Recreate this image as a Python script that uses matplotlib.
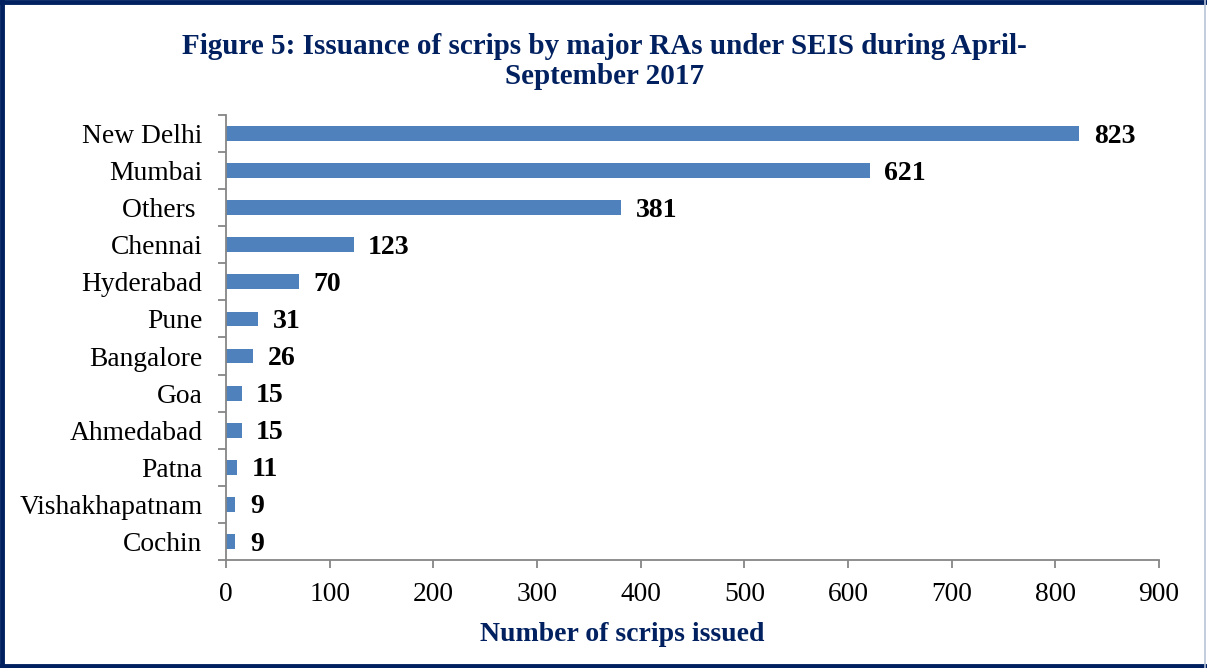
import matplotlib.pyplot as plt
import numpy as np
from matplotlib.lines import Line2D

regions = ['New Delhi', 'Mumbai', 'Others ', 'Chennai', 'Hyderabad', 'Pune',
           'Bangalore', 'Goa', 'Ahmedabad', 'Patna', 'Vishakhapatnam', 'Cochin']
scrips = [823, 621, 381, 123, 70, 31, 26, 15, 15, 11, 9, 9]
xticks = [0, 100, 200, 300, 400, 500, 600, 700, 800, 900]

navy = '#002060'
bar_color = '#4F81BD'
grey = '#868686'

plt.rcParams['font.family'] = ['Liberation Serif', 'DejaVu Serif']

fig = plt.figure(figsize=(12.07, 6.68), dpi=100)
ax = fig.add_axes([226 / 1207, 1 - 560 / 668, 933 / 1207, 445 / 668])

y = np.arange(len(regions))
ax.barh(y, scrips, height=0.4, color=bar_color)
for yi, v in zip(y, scrips):
    # small downward nudge so digits sit centred on the bar like the original
    ax.text(v + 14, yi + 0.07, str(v), va='center', ha='left', fontsize=20,
            fontweight='bold', color='black')

ax.set_xlim(0, 900)
ax.set_ylim(len(regions) - 0.5, -0.5)
ax.set_xticks(xticks)
ax.set_yticks(y)
ax.set_yticklabels(regions)
ax.set_yticks(np.arange(-0.5, len(regions), 1), minor=True)
ax.tick_params(axis='y', which='major', length=0, pad=17, labelsize=19.8)
ax.tick_params(axis='y', which='minor', length=6, color=grey, width=1.3)
ax.tick_params(axis='x', length=6, color=grey, width=1.3, labelsize=19.8, pad=10)
for s in ['top', 'right']:
    ax.spines[s].set_visible(False)
for s in ['left', 'bottom']:
    ax.spines[s].set_color(grey)
    ax.spines[s].set_linewidth(1.3)

ax.set_xlabel('Number of scrips issued', fontsize=20, fontweight='bold',
              color=navy)
ax.xaxis.set_label_coords(0.4245, -0.14)

fig.text(0.501, 1 - 46 / 668, 'Figure 5: Issuance of scrips by major RAs under SEIS during April-',
         ha='center', va='center', fontsize=21, fontweight='bold', color=navy)
fig.text(0.501, 1 - 76 / 668, 'September 2017',
         ha='center', va='center', fontsize=21, fontweight='bold', color=navy)

# frame: dark on left/top/bottom, light on right
fig.lines.append(Line2D([0.0015, 0.0015], [0, 1], transform=fig.transFigure,
                        color=navy, linewidth=3.5))
fig.lines.append(Line2D([0, 1], [0.9975, 0.9975], transform=fig.transFigure,
                        color=navy, linewidth=3.5))
fig.lines.append(Line2D([0, 1], [0.0025, 0.0025], transform=fig.transFigure,
                        color=navy, linewidth=3.5))
fig.lines.append(Line2D([0.998, 0.998], [0, 1], transform=fig.transFigure,
                        color='#B8C4D8', linewidth=1.2))

fig.savefig('out.png', dpi=100)
